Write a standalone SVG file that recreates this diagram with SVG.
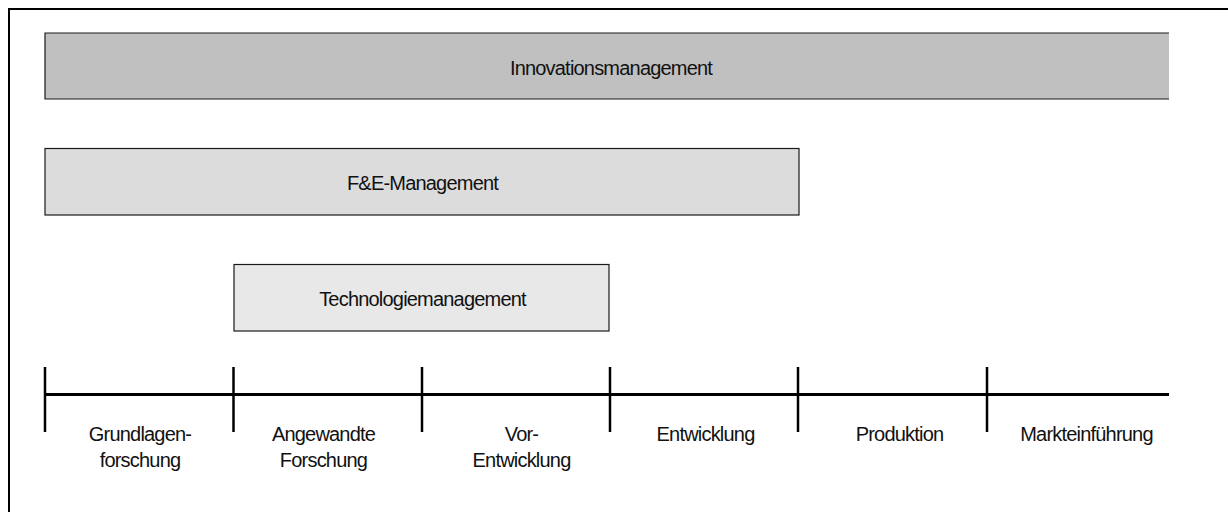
<svg xmlns="http://www.w3.org/2000/svg" width="1228" height="512" viewBox="0 0 1228 512">
  <style>
    .lbl { font-family: "Liberation Sans", Arial, sans-serif; font-size: 20px; letter-spacing: -0.8px; fill: #111; text-anchor: middle; }
    .box { stroke: #1a1a1a; stroke-width: 1.2; }
    .edge { fill: none; stroke: #1a1a1a; stroke-width: 1.2; }
    .axis { stroke: #000; stroke-width: 3; fill: none; }
    .tick { stroke: #000; stroke-width: 2.5; fill: none; }
  </style>
  <rect width="1228" height="512" fill="#fff"/>
  <!-- outer frame (open to the right and bottom) -->
  <path d="M9 512 V9 H1228" fill="none" stroke="#000" stroke-width="2"/>

  <g id="innovationsmanagement">
    <rect x="45" y="33" width="1124" height="66" fill="#c0c0c0"/>
    <path class="edge" d="M1169 33 H45 V99 H1169"/>
    <text class="lbl" x="611" y="75">Innovationsmanagement</text>
  </g>

  <g id="fe-management">
    <rect class="box" x="45" y="148.5" width="754" height="66.5" fill="#dcdcdc"/>
    <text class="lbl" x="422.5" y="190">F&amp;E-Management</text>
  </g>

  <g id="technologiemanagement">
    <rect class="box" x="234" y="264.5" width="375" height="66.5" fill="#e8e8e8"/>
    <text class="lbl" x="422.5" y="306">Technologiemanagement</text>
  </g>

  <g id="connectors">
    <line class="axis" x1="45" y1="394.5" x2="1169" y2="394.5"/>
    <line class="tick" x1="45" y1="367" x2="45" y2="432"/>
    <line class="tick" x1="233.5" y1="367" x2="233.5" y2="432"/>
    <line class="tick" x1="422" y1="367" x2="422" y2="432"/>
    <line class="tick" x1="610" y1="367" x2="610" y2="432"/>
    <line class="tick" x1="798" y1="367" x2="798" y2="432"/>
    <line class="tick" x1="987" y1="367" x2="987" y2="432"/>
  </g>

  <g id="phase-grundlagenforschung">
    <text class="lbl" x="140" y="441">Grundlagen-</text>
    <text class="lbl" x="140" y="467">forschung</text>
  </g>
  <g id="phase-angewandte-forschung">
    <text class="lbl" x="323.5" y="441">Angewandte</text>
    <text class="lbl" x="323.5" y="467">Forschung</text>
  </g>
  <g id="phase-vorentwicklung">
    <text class="lbl" x="521.5" y="441">Vor-</text>
    <text class="lbl" x="521.5" y="467">Entwicklung</text>
  </g>
  <g id="phase-entwicklung">
    <text class="lbl" x="705.5" y="441">Entwicklung</text>
  </g>
  <g id="phase-produktion">
    <text class="lbl" x="899.5" y="441">Produktion</text>
  </g>
  <g id="phase-markteinfuehrung">
    <text class="lbl" x="1086.5" y="441">Markteinführung</text>
  </g>
</svg>
